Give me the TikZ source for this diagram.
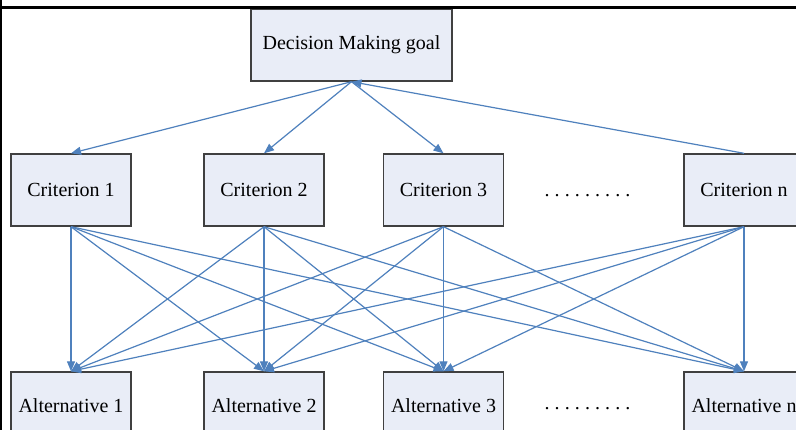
\documentclass[tikz,border=0pt]{standalone}
\usepackage{fontspec}
\setmainfont{Liberation Serif}
\usetikzlibrary{arrows.meta}
\definecolor{linkblue}{RGB}{79,129,189}
\definecolor{boxfill}{RGB}{233,237,247}
\definecolor{boxline}{RGB}{64,64,64}
\tikzset{
  box/.style={draw=boxline, line width=1.4pt, fill=boxfill, minimum width=120pt,
    minimum height=72pt, inner sep=0pt, font=\fontsize{20}{24}\selectfont},
  link/.style={draw=linkblue, line width=1.2pt,
    -{Triangle[length=10pt, width=8pt]}},
  ellipsis/.style={anchor=base, inner sep=0pt, font=\fontsize{20}{24}\selectfont}
}
\newcommand{\dotrow}{.\kern5.1pt.\kern5.1pt.\kern5.1pt.\kern5.1pt.\kern5.1pt.\kern5.1pt.\kern5.1pt.\kern5.1pt.}
\begin{document}
\begin{tikzpicture}[x=1pt, y=-1pt]
  \useasboundingbox (0,0) rectangle (796,430);
  \clip (0,0) rectangle (796,430);
  \fill[white] (0,0) rectangle (796,430);

  % goal
  \node[box, minimum width=201pt] (g) at (351.5,45) {Decision Making goal};

  % criteria
  \node[box] (c1) at (71,190) {Criterion 1};
  \node[box] (c2) at (264,190) {Criterion 2};
  \node[box] (c3) at (443.5,190) {Criterion 3};
  \node[box] (cn) at (744,190) {Criterion n};
  \node[ellipsis] (cdots) at (587.5,197) {\dotrow};

  % alternatives
  \node[box, minimum height=68pt] (a1) at (71,406) {Alternative 1};
  \node[box, minimum height=68pt] (a2) at (264,406) {Alternative 2};
  \node[box, minimum height=68pt] (a3) at (443.5,406) {Alternative 3};
  \node[box, minimum height=68pt] (an) at (744,406) {Alternative n};
  \node[ellipsis] (adots) at (587.5,410) {\dotrow};

  % goal to criteria
  \draw[link] (g.south) -- (c1.north);
  \draw[link] (g.south) -- (c2.north);
  \draw[link] (g.south) -- (c3.north);
  \draw[link] (cn.north) -- (g.south);

  % every criterion to every alternative
  \foreach \c in {c1,c2,c3,cn}
    \foreach \a in {a1,a2,a3,an}
      \draw[link] (\c.south) -- (\a.north);

  % frame edges
  \draw[black, line width=2.5pt] (0,7.5) -- (796,7.5);
  \draw[black, line width=2.5pt] (1.2,0) -- (1.2,430);
\end{tikzpicture}
\end{document}
